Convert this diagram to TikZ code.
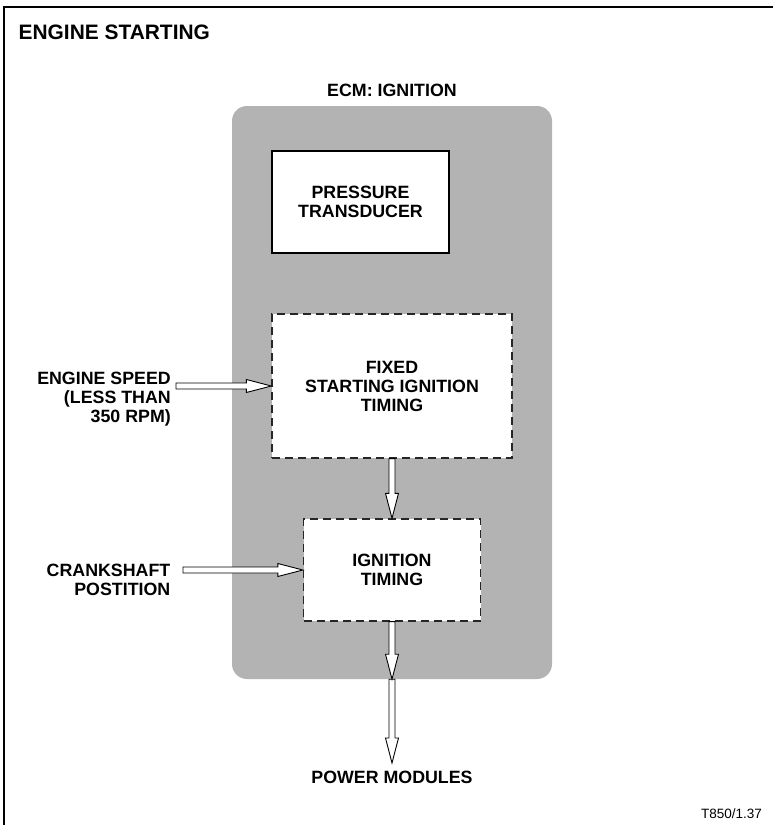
\documentclass[tikz,border=0pt]{standalone}
\usepackage{fontspec}
\setmainfont{Liberation Sans}
\usetikzlibrary{calc}
\definecolor{ecmgray}{RGB}{179,179,179}
\begin{document}
\begin{tikzpicture}[x=1pt,y=-1pt,
  lbl/.style={font=\fontsize{17.8}{19}\selectfont\bfseries, align=center, inner sep=0pt},
  solidbox/.style={draw=black, line width=1.2pt, fill=white, inner sep=0pt,
    font=\fontsize{17.8}{18.5}\selectfont\bfseries, align=center},
  dashbox/.style={draw=black!85, line width=1.3pt, fill=white, inner sep=0pt,
    dash pattern=on 8pt off 5pt,
    font=\fontsize{17.8}{19}\selectfont\bfseries, align=center},
  hollow/.style={draw=black, line width=0.9pt, fill=white, line join=miter,
    to path={
      ($(\tikztotarget)!25pt!(\tikztostart)$) coordinate (hc)
      ($(\tikztostart)!3pt!90:(\tikztotarget)$)
        -- ($(hc)!3pt!90:(\tikztotarget)$)
        -- ($(hc)!6.5pt!90:(\tikztotarget)$)
        -- (\tikztotarget)
        -- ($(hc)!6.5pt!-90:(\tikztotarget)$)
        -- ($(hc)!3pt!-90:(\tikztotarget)$)
        -- ($(\tikztostart)!3pt!-90:(\tikztotarget)$)
        -- cycle
    }}
]
\useasboundingbox (0,0) rectangle (773,825);
\fill[white] (0,0) rectangle (773,825);
% frame
\draw[line width=1.3pt] (4,830) -- (4,7) -- (780,7);

% title
\node[anchor=base west, inner sep=0pt, font=\fontsize{20.9}{24}\selectfont\bfseries] (title) at (18.5,39) {ENGINE STARTING};
\node[lbl, anchor=base] (ecmt) at (392,96) {ECM: IGNITION};

% ECM gray area
\node[fill=ecmgray, rounded corners=15pt, minimum width=320pt, minimum height=573pt, inner sep=0pt] (ecm) at (392,392.5) {};

% boxes
\node[solidbox, minimum width=177pt, minimum height=102pt] (pt) at (360.5,202) {PRESSURE\\TRANSDUCER};
\node[dashbox, minimum width=240pt, minimum height=144pt] (fixed) at (392,386) {FIXED\\STARTING IGNITION\\TIMING};
\node[dashbox, minimum width=177pt, minimum height=102pt] (ign) at (392,570) {IGNITION\\TIMING};

% left labels
\node[lbl, align=right, anchor=east] (es) at (171,399) {ENGINE SPEED\\(LESS THAN\\350 RPM)};
\node[lbl, align=right, anchor=east] (cs) at (170.5,580) {CRANKSHAFT\\POSTITION};
\coordinate (esa) at (176,386);
\coordinate (csa) at (183,570);

% bottom
\coordinate (pmtip) at (392,763);
\node[lbl, anchor=base] (pm) at (392,783) {POWER MODULES};
\node[anchor=base east, inner sep=0pt, font=\fontsize{13.5}{16}\selectfont] (ref) at (762,818) {T850/1.37};

% arrows
\draw[hollow] (esa) to (fixed.west);
\draw[hollow] (csa) to (ign.west);
\draw[hollow] (fixed.south) to (ign.north);
\draw[hollow] (ecm.south) to (pmtip);
\draw[hollow] (ign.south) to (ecm.south);
\end{tikzpicture}
\end{document}
